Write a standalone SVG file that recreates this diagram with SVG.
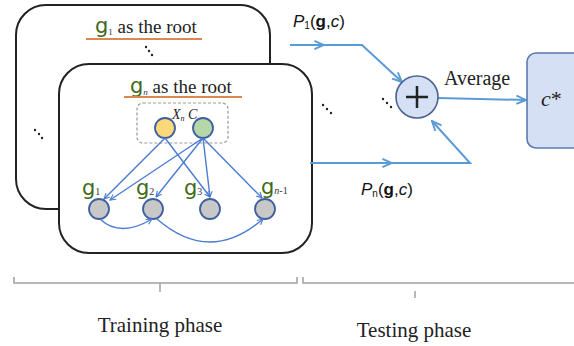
<svg xmlns="http://www.w3.org/2000/svg" width="574" height="346" viewBox="0 0 574 346">
<style>
.box{fill:#fff;stroke:#222;stroke-width:2}
.ser{font-family:"Liberation Serif","Times New Roman",serif;fill:#222}
.g{font-family:"DejaVu Sans","Liberation Sans",sans-serif;fill:#3f6a16}
.sub{font-family:"Liberation Serif",serif;fill:#333}
.ul{stroke:#d9884f;stroke-width:2}
.conn{fill:none;stroke:#4a7cd0;stroke-width:1.4}
.flow{fill:none;stroke:#5b9bd5;stroke-width:2}
.node{fill:#c8c8c8;stroke:#3f5f9f;stroke-width:1.8}
.br{fill:none;stroke:#a0a0a0;stroke-width:1.5}
.lab{font-family:"Liberation Sans","DejaVu Sans",sans-serif;fill:#111}
</style>
<defs>
<marker id="ah" viewBox="0 0 10 10" refX="9" refY="5" markerWidth="7" markerHeight="7" orient="auto" markerUnits="userSpaceOnUse">
<path d="M1,1 L9,5 L1,9" fill="none" stroke="#4a7cd0" stroke-width="1.6"/>
</marker>
<marker id="ah2" viewBox="0 0 10 10" refX="9" refY="5" markerWidth="12" markerHeight="12" orient="auto" markerUnits="userSpaceOnUse">
<path d="M1,1.5 L9,5 L1,8.5" fill="none" stroke="#5b9bd5" stroke-width="1.6"/>
</marker>
</defs>

<g id="back-box">
<rect class="box" x="16" y="5" width="254" height="204" rx="30"/>
<text class="ser" x="95" y="33" font-size="19"><tspan class="g" font-size="21">g</tspan><tspan class="sub" font-size="9" dy="2">1</tspan><tspan dy="-2"> as the root</tspan></text>
<line class="ul" x1="86" y1="39" x2="202" y2="39"/>
<g fill="#222"><circle cx="146" cy="47" r="1.2"/><circle cx="149" cy="51" r="1.2"/><circle cx="152" cy="55" r="1.2"/></g>
<g fill="#222"><circle cx="35" cy="130" r="1.2"/><circle cx="39" cy="134" r="1.2"/><circle cx="42" cy="138" r="1.2"/></g>
</g>

<g id="front-box">
<rect class="box" x="59" y="64" width="253" height="189" rx="30"/>
<text class="ser" x="130" y="93" font-size="19"><tspan class="g" font-size="21">g</tspan><tspan class="sub" font-size="9" dy="2" font-style="italic">n</tspan><tspan dy="-2"> as the root</tspan></text>
<line class="ul" x1="124" y1="97" x2="242" y2="97"/>
<rect x="137" y="103" width="91" height="40" rx="6" fill="none" stroke="#999" stroke-width="1.2" stroke-dasharray="3,2"/>
<text class="ser" x="172" y="119" font-size="14" font-style="italic">X<tspan font-size="8" dy="2">n</tspan><tspan dy="-2"> C</tspan></text>
</g>

<g id="node-xn"><circle cx="165" cy="128" r="10" fill="#fbd97a" stroke="#3f5f9f" stroke-width="1.8"/></g>
<g id="node-c"><circle cx="203" cy="128" r="10" fill="#b6d7a8" stroke="#3f5f9f" stroke-width="1.8"/></g>

<g id="node-g1">
<circle class="node" cx="99" cy="209" r="10"/>
<text x="82" y="195" font-size="21" class="g">g<tspan class="sub" font-size="10">1</tspan></text>
</g>
<g id="node-g2">
<circle class="node" cx="153" cy="209" r="10"/>
<text x="136" y="195" font-size="21" class="g">g<tspan class="sub" font-size="10">2</tspan></text>
</g>
<g id="node-g3">
<circle class="node" cx="210" cy="209" r="10"/>
<text x="184" y="195" font-size="21" class="g">g<tspan class="sub" font-size="10">3</tspan></text>
</g>
<g id="node-gn1">
<circle class="node" cx="265" cy="209" r="10"/>
<text x="261" y="194" font-size="21" class="g">g<tspan class="sub" font-size="10" font-style="italic">n</tspan><tspan class="sub" font-size="10">-1</tspan></text>
</g>

<g id="connectors">
<line class="conn" x1="165" y1="138" x2="104" y2="199" marker-end="url(#ah)"/>
<line class="conn" x1="165" y1="138" x2="210" y2="197" marker-end="url(#ah)"/>
<line class="conn" x1="203" y1="138" x2="110" y2="200" marker-end="url(#ah)"/>
<line class="conn" x1="203" y1="138" x2="156" y2="197" marker-end="url(#ah)"/>
<line class="conn" x1="203" y1="138" x2="210" y2="197" marker-end="url(#ah)"/>
<line class="conn" x1="203" y1="138" x2="262" y2="198" marker-end="url(#ah)"/>
<path class="conn" d="M100,219 Q120,238 152,219" marker-end="url(#ah)"/>
<path class="conn" d="M157,219 Q210,265 263,219" marker-end="url(#ah)"/>

<line class="flow" x1="290" y1="45" x2="324" y2="45" marker-end="url(#ah2)"/>
<path class="flow" d="M322,45 L362,45 L402,82" marker-end="url(#ah2)"/>
<line class="flow" x1="310" y1="163" x2="392" y2="163" marker-end="url(#ah2)"/>
<path class="flow" d="M390,163 L470,163 L432,121" marker-end="url(#ah2)"/>
<line class="flow" x1="438" y1="98" x2="526" y2="100" marker-end="url(#ah2)"/>
</g>

<g fill="#222"><circle cx="323" cy="105" r="1.2"/><circle cx="327" cy="109" r="1.2"/><circle cx="331" cy="113" r="1.2"/></g>
<g fill="#222"><circle cx="383" cy="99" r="1.2"/><circle cx="387" cy="103" r="1.2"/><circle cx="391" cy="107" r="1.2"/></g>

<g id="label-p1"><text class="lab" x="293" y="27" font-size="17"><tspan font-style="italic">P</tspan><tspan font-size="10" dy="2">1</tspan><tspan dy="-2">(</tspan><tspan font-weight="bold">g</tspan>,<tspan font-style="italic">c</tspan>)</text></g>
<g id="label-pn"><text class="lab" x="361" y="195" font-size="17"><tspan font-style="italic">P</tspan><tspan font-size="10" dy="2">n</tspan><tspan dy="-2">(</tspan><tspan font-weight="bold">g</tspan>,<tspan font-style="italic">c</tspan>)</text></g>

<g id="node-sum">
<circle cx="417" cy="97" r="21" fill="#d5e0f5" stroke="#4a6390" stroke-width="1.6"/>
<path d="M417,86 V108 M406,97 H428" stroke="#222" stroke-width="2.5"/>
</g>
<text class="ser" x="444" y="85" font-size="20">Average</text>

<g id="node-cstar">
<rect x="527" y="53" width="60" height="95" rx="9" fill="#d5e0f5" stroke="#5a7ab0" stroke-width="1.6"/>
<text class="ser" x="541" y="106" font-size="22" font-style="italic">c<tspan font-style="normal">*</tspan></text>
</g>

<g id="brackets">
<path class="br" d="M14,277 V283 H297 V277"/>
<line class="br" x1="160" y1="283" x2="160" y2="292"/>
<path class="br" d="M303,277 V283 H574"/>
<line class="br" x1="415" y1="291" x2="415" y2="298"/>
<text class="ser" x="160" y="332" font-size="21" text-anchor="middle">Training phase</text>
<text class="ser" x="414" y="337" font-size="21" text-anchor="middle">Testing phase</text>
</g>
</svg>
